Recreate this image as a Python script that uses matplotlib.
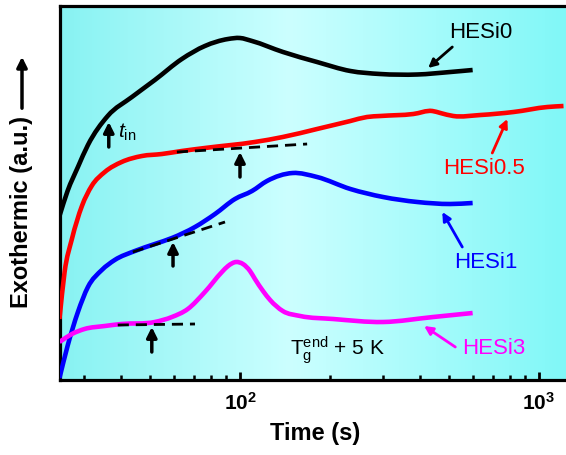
import numpy as np
import matplotlib
matplotlib.use("Agg")
import matplotlib.pyplot as plt
from matplotlib.colors import LinearSegmentedColormap
from matplotlib.patches import FancyArrowPatch, PathPatch
from matplotlib.path import Path

plt.rcParams['font.family'] = ['Liberation Sans', 'DejaVu Sans']
plt.rcParams['mathtext.fontset'] = 'custom'
plt.rcParams['mathtext.rm'] = 'Liberation Sans'
plt.rcParams['mathtext.it'] = 'Liberation Sans:italic'
plt.rcParams['mathtext.bf'] = 'Liberation Sans:bold'

# ---- data (time in s, heat flow in a.u.) ----
time_hesi0 = [24.9, 26.5, 28.7, 31.0, 36.1, 43.5, 51.9, 63.9, 76.3, 91.2, 100, 109.7,
              139.3, 181, 234, 294.5, 392, 505, 600]
hesi0 = [1.64, 1.89, 2.13, 2.35, 2.64, 2.83, 3.00, 3.21, 3.34, 3.41, 3.42, 3.39,
         3.28, 3.18, 3.09, 3.06, 3.055, 3.08, 3.10]

time_hesi05 = [24.9, 25.9, 27.4, 29.6, 31.9, 35.3, 40.2, 47.0, 54.8, 63.9, 76.3, 112,
               139, 181, 234, 266, 294.5, 380, 440, 468, 517, 637, 822, 1068, 1208]
hesi05 = [0.61, 1.08, 1.41, 1.74, 1.94, 2.08, 2.18, 2.24, 2.26, 2.29, 2.32, 2.38,
          2.43, 2.51, 2.59, 2.63, 2.64, 2.66, 2.69, 2.67, 2.64, 2.65, 2.68, 2.73, 2.74]

time_hesi1 = [24.9, 26.5, 28.7, 31.0, 34.5, 38.1, 44.5, 51.9, 59.2, 70.7, 82.5, 96.2,
              109.7, 123.1, 150, 181, 234, 301, 392, 505, 600]
hesi1 = [0.02, 0.34, 0.68, 0.93, 1.10, 1.20, 1.29, 1.36, 1.42, 1.53, 1.66, 1.81,
         1.89, 1.99, 2.07, 2.03, 1.91, 1.83, 1.78, 1.76, 1.77]

time_hesi3 = [24.9, 27.4, 30.2, 35.3, 40.2, 51.9, 59.2, 66.9, 76.3, 87.0, 91.2, 97.0,
              102.3, 108.0, 112.2, 119.4, 126.1, 139, 159, 205, 301, 443, 600]
hesi3 = [0.38, 0.46, 0.51, 0.54, 0.56, 0.58, 0.63, 0.71, 0.88, 1.08, 1.14, 1.18,
         1.16, 1.09, 1.01, 0.89, 0.80, 0.69, 0.64, 0.61, 0.58, 0.63, 0.67]

# tangent lines (start/end time, start/end value)
tan_t = {'HESi0.5': [61.5, 167.7], 'HESi1': [43.8, 89.1], 'HESi3': [39.0, 70.7]}
tan_y = {'HESi0.5': [2.28, 2.36], 'HESi1': [1.28, 1.58], 'HESi3': [0.55, 0.56]}

# t_in arrows (time, tail value, head value)
tin_t = [36.4, 100, 59.7, 50.7]
tin_y0 = [2.33, 2.03, 1.14, 0.28]
tin_y1 = [2.58, 2.28, 1.38, 0.53]

labels = ['HESi0', 'HESi0.5', 'HESi1', 'HESi3']
colors = ['#000000', '#ff0000', '#0000ff', '#ff00ff']
label_t = [637, 657, 662, 704]
label_y = [3.49, 2.13, 1.19, 0.32]
larrow_t0 = [513, 698, 554, 525]
larrow_y0 = [3.33, 2.27, 1.33, 0.33]
larrow_t1 = [426, 784, 475, 413]
larrow_y1 = [3.12, 2.61, 1.68, 0.54]

xlim = (25.0, 1270)
ylim = (0, 3.74)


def smooth_path(t, y):
    """Smooth cubic Hermite Bezier path through the data points (log-time axis)."""
    x = np.log10(np.asarray(t, float))
    yy = np.asarray(y, float)
    n = len(x)
    h = np.diff(x)
    d = np.diff(yy) / h
    m = np.zeros(n)
    m[0], m[-1] = d[0], d[-1]
    for i in range(1, n - 1):
        m[i] = (h[i] * d[i - 1] + h[i - 1] * d[i]) / (h[i - 1] + h[i])
    verts = [(x[0], yy[0])]
    codes = [Path.MOVETO]
    for i in range(n - 1):
        verts += [(x[i] + h[i] / 3, yy[i] + m[i] * h[i] / 3),
                  (x[i + 1] - h[i] / 3, yy[i + 1] - m[i + 1] * h[i] / 3),
                  (x[i + 1], yy[i + 1])]
        codes += [Path.CURVE4] * 3
    verts = np.array(verts)
    verts[:, 0] = 10 ** verts[:, 0]
    return Path(verts, codes)


fig = plt.figure(figsize=(5.66, 4.56), dpi=100)
ax = fig.add_axes([60/566, 75/456, 510/566, 374/456])

# background gradient
cmap = LinearSegmentedColormap.from_list(
    'bg', [(0.0, (0.53, 0.95, 0.95)), (0.45, (0.80, 1.0, 1.0)), (1.0, (0.50, 0.97, 0.97))])
grad = np.linspace(0, 1, 256).reshape(1, -1)
ax.imshow(grad, aspect='auto', cmap=cmap, extent=[0, 1, 0, 1],
          transform=ax.transAxes, zorder=0)

series = [(time_hesi0, hesi0), (time_hesi05, hesi05), (time_hesi1, hesi1), (time_hesi3, hesi3)]
for (t, y), c in zip(series, colors):
    ax.add_patch(PathPatch(smooth_path(t, y), facecolor='none', edgecolor=c,
                           lw=3.3, capstyle='butt', zorder=3))

for k in tan_t:
    ax.plot(tan_t[k], tan_y[k], color='k', lw=2, ls=(0, (4, 2.5)), zorder=4)

for t, y0, y1 in zip(tin_t, tin_y0, tin_y1):
    ax.annotate('', xy=(t, y1), xytext=(t, y0),
                arrowprops=dict(arrowstyle='-|>,head_length=0.6,head_width=0.3',
                                lw=2.5, color='k', shrinkA=0, shrinkB=0), zorder=5)

ax.text(39.0, 2.49, r'$t_{\mathrm{in}}$', fontsize=15, ha='left', va='center')

for lab, c, lt, ly, t0, y0, t1, y1 in zip(labels, colors, label_t, label_y,
                                          larrow_t0, larrow_y0, larrow_t1, larrow_y1):
    ax.text(lt, ly, lab, color=c, fontsize=16, ha='center', va='center')
    ax.annotate('', xy=(t1, y1), xytext=(t0, y0),
                arrowprops=dict(arrowstyle='-|>,head_length=0.5,head_width=0.25',
                                lw=2, color=c, shrinkA=0, shrinkB=0), zorder=5)

ax.text(147, 0.31, r'$\mathrm{T}_{\mathrm{g}}^{\mathrm{end}}$ + 5 K', fontsize=15,
        ha='left', va='center')

ax.set_xscale('log')
ax.set_xlim(*xlim)
ax.set_ylim(*ylim)
ax.set_yticks([])
ax.set_xticks([100, 1000])
ax.set_xticklabels([r'$\mathbf{10^{2}}$', r'$\mathbf{10^{3}}$'], fontsize=15)
ax.tick_params(axis='x', which='major', direction='in', length=6, width=2, pad=8)
ax.tick_params(axis='x', which='minor', direction='in', length=3.5, width=1.8)
for s in ax.spines.values():
    s.set_linewidth(2.3)
ax.spines['right'].set_visible(False)

ax.set_xlabel('Time (s)', fontsize=17, fontweight='bold', labelpad=6)

fig.text(22/566, 1 - 212/456, 'Exothermic (a.u.)', rotation=90, fontsize=17,
         fontweight='bold', ha='center', va='center')
fig.add_artist(FancyArrowPatch((22/566, 1 - 112/456), (22/566, 1 - 55/456),
                               transform=fig.transFigure,
                               arrowstyle='-|>,head_length=6,head_width=3',
                               lw=2.5, color='k', mutation_scale=1))

fig.savefig('out.png', dpi=100)
